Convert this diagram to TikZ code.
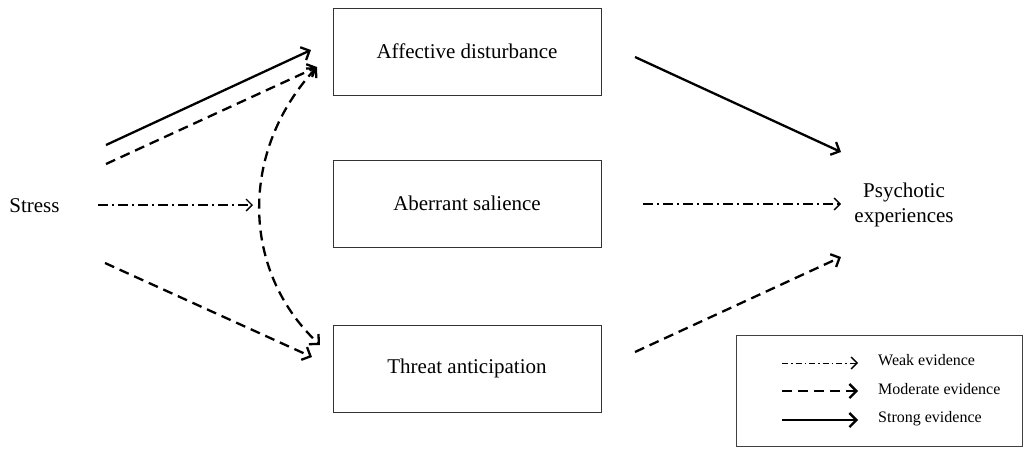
\documentclass[tikz,border=0pt]{standalone}
\usepackage{fontspec}
\setmainfont{Liberation Serif}
\usetikzlibrary{arrows.meta}
\tikzset{
  box/.style={draw=black!80, line width=1pt, minimum width=268pt, minimum height=87pt, inner sep=0pt, font=\fontsize{21}{25}\selectfont},
  lbl/.style={inner sep=0pt, font=\fontsize{21}{25}\selectfont, align=center},
  leg/.style={inner sep=0pt, anchor=west, font=\fontsize{16}{18}\selectfont},
  strongarr/.style={line width=2.3pt, -{Straight Barb[length=7pt,width=14pt,line width=2.3pt]}},
  modarr/.style={line width=2.3pt, dash pattern=on 10pt off 6pt, -{Straight Barb[length=7pt,width=14pt,line width=2.3pt]}},
  modarrboth/.style={line width=2.3pt, dash pattern=on 10pt off 6pt, {Straight Barb[length=7pt,width=14pt,line width=2.3pt]}-{Straight Barb[length=7pt,width=14pt,line width=2.3pt]}},
  weakarr/.style={line width=1.3pt, dash pattern=on 10pt off 4pt on 2pt off 4pt, -{Straight Barb[length=6pt,width=12pt,line width=1.3pt]}}
}
\begin{document}
\begin{tikzpicture}[x=1pt,y=-1pt]
\useasboundingbox (0,0) rectangle (1023,448);
% boxes
\node[box] (aff) at (467,51.5) {Affective disturbance};
\node[box] (abs) at (467,203.5) {Aberrant salience};
\node[box] (thr) at (467,368.5) {Threat anticipation};
\node[lbl] (stress) at (34.5,206) {Stress};
\node[lbl] (psy) at (904,205) {Psychotic\\experiences};
% coordinates
\coordinate (s1) at (106,145);
\coordinate (s1e) at (311,50);
\coordinate (s2) at (106,164);
\coordinate (affin) at (317,67);
\coordinate (s3) at (98,205);
\coordinate (s3e) at (253,205);
\coordinate (s4) at (105,263);
\coordinate (s4e) at (312,357);
\coordinate (thrin) at (320,345);
\coordinate (o1) at (635,57);
\coordinate (o1e) at (841,152);
\coordinate (o2) at (643,204);
\coordinate (o2e) at (841,204);
\coordinate (o3) at (635,352);
\coordinate (o3e) at (841,257);
% arrows
\draw[strongarr] (s1) -- (s1e);
\draw[modarr] (s2) -- (affin);
\draw[weakarr] (s3) -- (s3e);
\draw[modarr] (s4) -- (s4e);
\draw[modarrboth] (affin) .. controls (240,150) and (240,270) .. (thrin);
\draw[strongarr] (o1) -- (o1e);
\draw[weakarr] (o2) -- (o2e);
\draw[modarr] (o3) -- (o3e);
% legend
\node[draw=black!75, line width=1pt, minimum width=286pt, minimum height=111pt, inner sep=0pt, anchor=north west] (legend) at (736,335) {};
\coordinate (l1) at (782,363);
\coordinate (l1e) at (858,363);
\coordinate (l2) at (782,391);
\coordinate (l2e) at (858,391);
\coordinate (l3) at (782,420);
\coordinate (l3e) at (858,420);
\draw[weakarr, line width=0.8pt, dash pattern=on 6pt off 3pt on 1.5pt off 3pt] (l1) -- (l1e);
\draw[modarr] (l2) -- (l2e);
\draw[strongarr] (l3) -- (l3e);
\node[leg] (t1) at (878,360) {Weak evidence};
\node[leg] (t2) at (878,389) {Moderate evidence};
\node[leg] (t3) at (878,419) {Strong evidence};
\end{tikzpicture}
\end{document}
